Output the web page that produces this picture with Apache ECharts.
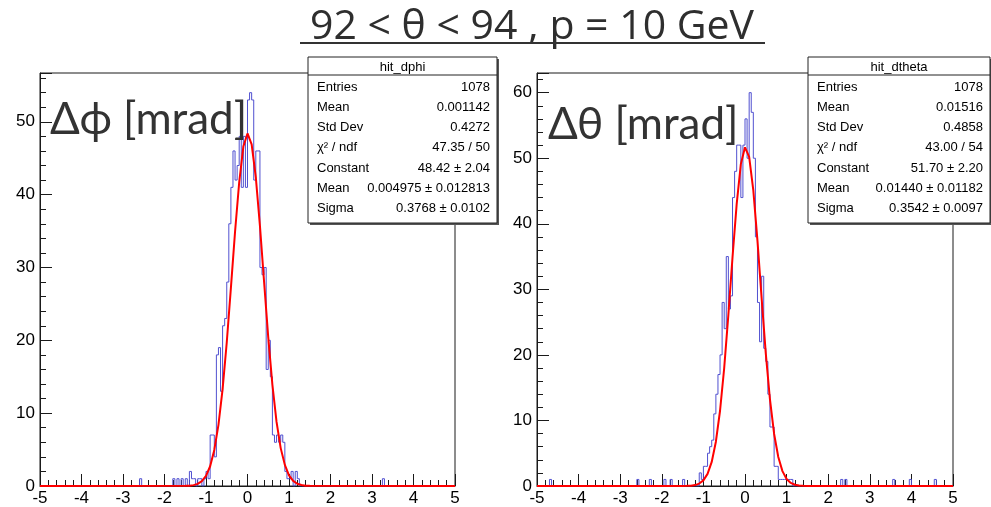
<!DOCTYPE html>
<html><head><meta charset="utf-8">
<script src="https://cdn.jsdelivr.net/npm/echarts@6/dist/echarts.min.js"></script>
<style>html,body{margin:0;padding:0;background:#fff}#c{width:991px;height:507px}</style>
</head><body><div id="c"></div>
<script>
// ---------- data ----------
const titleText = '92 < θ < 94 , p = 10 GeV';
const xTickLabels = [-5, -4, -3, -2, -1, 0, 1, 2, 3, 4, 5];
const binWidth = 0.05;               // 200 bins over [-5, 5]

// non-empty bins: [low edge, entries]
const dphiBins = [[-2.60,1],[-1.80,1],[-1.70,1],[-1.60,1],[-1.50,1],[-1.40,2],[-1.35,1],[-1.30,1],[-1.20,1],[-1.15,1],[-1.05,1],[-1.00,2],[-0.95,1],[-0.90,7],[-0.85,7],[-0.80,4],[-0.75,18],[-0.70,19],[-0.65,13],[-0.60,22],[-0.55,23],[-0.50,28],[-0.45,36],[-0.40,41],[-0.35,46],[-0.30,42],[-0.25,44],[-0.20,48],[-0.15,41],[-0.10,48],[-0.05,41],[0.00,53],[0.05,54],[0.10,53],[0.15,42],[0.20,46],[0.25,46],[0.30,30],[0.35,29],[0.40,30],[0.45,16],[0.50,20],[0.55,15],[0.60,7],[0.65,6],[0.70,7],[0.75,6],[0.80,7],[0.85,6],[0.90,2],[0.95,1],[1.00,1],[1.05,2],[1.15,2],[1.20,1],[3.25,1]];
const dthetaBins = [[-4.70,1],[-2.60,1],[-2.30,1],[-1.95,1],[-1.80,1],[-1.50,1],[-1.10,2],[-1.05,1],[-1.00,3],[-0.95,3],[-0.90,5],[-0.85,6],[-0.80,7],[-0.75,11],[-0.70,14],[-0.65,17],[-0.60,20],[-0.55,28],[-0.50,24],[-0.45,35],[-0.40,27],[-0.35,29],[-0.30,44],[-0.25,48],[-0.20,52],[-0.15,52],[-0.10,44],[-0.05,52],[0.00,56],[0.05,50],[0.10,60],[0.15,57],[0.20,50],[0.25,38],[0.30,28],[0.35,22],[0.40,32],[0.45,21],[0.50,19],[0.55,14],[0.60,9],[0.65,9],[0.70,3],[0.75,3],[0.80,1],[0.85,1],[0.90,1],[0.95,1],[1.00,1],[1.05,1],[1.10,1],[2.30,1],[2.40,1],[3.55,1],[3.95,1],[4.55,1]];

const fitX = [-5,-1.5,-1.4,-1.3,-1.2,-1.1,-1.0,-0.9,-0.8,-0.7,-0.6,-0.5,-0.4,-0.3,-0.2,-0.1,0,0.1,0.2,0.3,0.4,0.5,0.6,0.7,0.8,0.9,1.0,1.1,1.2,1.3,1.4,1.5,5];
const dphiFitY = [0,0.02,0.05,0.12,0.29,0.66,1.38,2.71,4.95,8.4,13.3,19.7,27.2,34.9,41.7,46.6,48.4,46.9,42.4,35.7,28.0,20.4,13.9,8.8,5.2,2.9,1.47,0.71,0.31,0.13,0.05,0.02,0];
const dthetaFitY = [0,0.01,0.02,0.05,0.14,0.37,0.86,1.85,3.67,6.76,11.48,18.0,26.1,34.9,43.0,49.1,51.66,50.2,45.1,37.4,28.6,20.2,13.2,7.94,4.42,2.27,1.08,0.47,0.19,0.07,0.02,0.01,0];

const yMaxDphi = 56.7, yMaxDtheta = 63;
const dphiStatsName = 'hit_dphi';
const dthetaStatsName = 'hit_dtheta';
const statLabels = ['Entries','Mean','Std Dev','χ² / ndf','Constant','Mean','Sigma'];
const dphiStatValues = ['1078','0.001142','0.4272','47.35 / 50','48.42 ± 2.04','0.004975 ± 0.012813','0.3768 ± 0.0102'];
const dthetaStatValues = ['1078','0.01516','0.4858','43.00 / 54','51.70 ± 2.20','0.01440 ± 0.01182','0.3542 ± 0.0097'];
const dphiLabel = 'Δϕ [mrad]';
const dthetaLabel = 'Δθ [mrad]';

// ---------- build ----------
function histSteps(bins){
  const n = Math.round((xTickLabels[xTickLabels.length-1]-xTickLabels[0])/binWidth);
  const c = new Array(n).fill(0);
  bins.forEach(([lo,v])=>{ c[Math.round((lo-xTickLabels[0])/binWidth)] = v; });
  const pts = c.map((v,i)=>[+(xTickLabels[0]+i*binWidth).toFixed(2), v]);
  pts.push([xTickLabels[xTickLabels.length-1], c[n-1]]);
  return pts;
}
const fitPts = ys => fitX.map((x,i)=>[x, ys[i]]);

const axisCol = '#1a1a1a';
const labelFont = {fontFamily:'Liberation Sans, Arial, sans-serif', fontSize:17, color:'#000'};
function axesFor(g, ymax){
  return {
    x: [
      {gridIndex:g, type:'value', min:-5, max:5, interval:1, position:'bottom',
       axisLine:{show:true, onZero:false, lineStyle:{color:axisCol,width:1}},
       axisTick:{show:true, inside:true, length:12, lineStyle:{color:axisCol}},
       axisLabel:Object.assign({margin:4}, labelFont),
       splitLine:{show:false}},
      {gridIndex:g, type:'value', min:-5, max:5, interval:0.2, position:'bottom',
       axisLine:{show:false, onZero:false}, axisTick:{show:true, inside:true, length:6, lineStyle:{color:axisCol}},
       axisLabel:{show:false}, splitLine:{show:false}}
    ],
    y: [
      {gridIndex:g, type:'value', min:0, max:ymax, interval:2, position:'left',
       axisLine:{show:true, onZero:false, lineStyle:{color:axisCol}},
       axisTick:{show:true, inside:true, length:6, lineStyle:{color:axisCol}},
       axisLabel:{show:false}, splitLine:{show:false}},
      {gridIndex:g, type:'value', min:0, max:ymax, interval:10, position:'left',
       axisLine:{show:false, onZero:false},
       axisTick:{show:true, inside:true, length:12, lineStyle:{color:axisCol}},
       axisLabel:Object.assign({margin:5, formatter:v=> (Math.abs(v%10)<1e-6 ? String(v) : '')}, labelFont),
       splitLine:{show:false}}
    ]
  };
}
const a0 = axesFor(0, yMaxDphi), a1 = axesFor(1, yMaxDtheta);

function statBox(x, y, w, name, values){
  const rowH = 20.3, headH = 18, h = 166;
  const ch = [
    {type:'rect', shape:{x:x+2,y:y+2,width:w,height:h}, style:{fill:'#555'}},
    {type:'rect', shape:{x:x,y:y,width:w,height:h}, style:{fill:'#fff', stroke:'#222', lineWidth:1}},
    {type:'line', shape:{x1:x,y1:y+headH,x2:x+w,y2:y+headH}, style:{stroke:'#222', lineWidth:1}},
    {type:'text', x:x+w/2, y:y+headH/2+1, style:{text:name, align:'center', verticalAlign:'middle', font:'13px "Liberation Sans Narrow", "Liberation Sans", Arial', fill:'#000'}}
  ];
  statLabels.forEach((l,i)=>{
    const cy = y + 30 + i*rowH;
    ch.push({type:'text', x:x+9, y:cy, style:{text:l, align:'left', verticalAlign:'middle', font:'13px "Liberation Sans", Arial', fill:'#000'}});
    ch.push({type:'text', x:x+w-7, y:cy, style:{text:values[i], align:'right', verticalAlign:'middle', font:'13px "Liberation Sans", Arial', fill:'#000'}});
  });
  return {type:'group', children:ch, z:100};
}

const histStyle = {color:'#5050d0', width:1};
const fitStyle = {color:'#ff0000', width:2};

const chart = echarts.init(document.getElementById('c'), null, {renderer:'canvas'});
chart.setOption({
  animation:false,
  backgroundColor:'#fff',
  grid:[
    {left:40, right:536, top:73, bottom:19, show:true, borderColor:axisCol, borderWidth:1, containLabel:false},
    {left:537, right:38, top:73, bottom:19, show:true, borderColor:axisCol, borderWidth:1, containLabel:false}
  ],
  xAxis:[...a0.x, ...a1.x],
  yAxis:[...a0.y, ...a1.y],
  series:[
    {type:'line', xAxisIndex:0, yAxisIndex:0, step:'end', symbol:'none', data:histSteps(dphiBins), lineStyle:histStyle, z:2},
    {type:'line', xAxisIndex:0, yAxisIndex:0, symbol:'none', data:fitPts(dphiFitY), lineStyle:fitStyle, z:3},
    {type:'line', xAxisIndex:2, yAxisIndex:2, step:'end', symbol:'none', data:histSteps(dthetaBins), lineStyle:histStyle, z:2},
    {type:'line', xAxisIndex:2, yAxisIndex:2, symbol:'none', data:fitPts(dthetaFitY), lineStyle:fitStyle, z:3}
  ],
  graphic:[
    {type:'text', x:532, y:27, style:{text:titleText, align:'center', verticalAlign:'middle', font:'41px "Open Sans", Lato, sans-serif', fill:'#2e2e2e'}},
    {type:'rect', shape:{x:300,y:42,width:465,height:2}, style:{fill:'#333'}},
    {type:'text', x:50, y:120, style:{text:dphiLabel, align:'left', verticalAlign:'middle', font:'44px Lato, "Open Sans", sans-serif', fill:'#333'}, z:50},
    {type:'text', x:548, y:125, style:{text:dthetaLabel, align:'left', verticalAlign:'middle', font:'44px Lato, "Open Sans", sans-serif', fill:'#333'}, z:50},
    statBox(308, 57, 189, dphiStatsName, dphiStatValues),
    statBox(808, 57, 182, dthetaStatsName, dthetaStatValues)
  ]
});
</script></body></html>
